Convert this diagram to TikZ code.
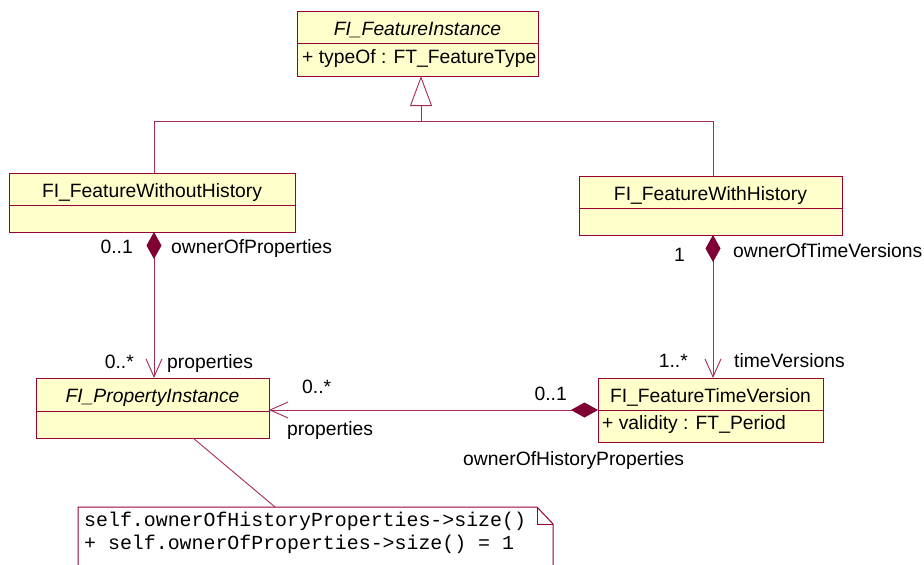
\documentclass[tikz,border=0pt]{standalone}
\usepackage{fontspec}
\setmainfont{Liberation Sans}
\newfontfamily\notemono{Liberation Mono}
\usetikzlibrary{arrows.meta}
\definecolor{umlborder}{RGB}{153,0,51}
\definecolor{umlline}{RGB}{165,45,85}
\definecolor{umlfill}{RGB}{255,255,204}
\definecolor{umldiam}{RGB}{128,0,51}
\begin{document}
\begin{tikzpicture}[x=1pt,y=-1pt,
  cls/.style={draw=umlborder, fill=umlfill, line width=1pt, inner sep=0pt, outer sep=0pt, anchor=north west, text height=17pt, text depth=1pt, font=\fontsize{19.3}{22}\selectfont},
  attr/.style={inner sep=0pt, anchor=west, font=\fontsize{19.3}{22}\selectfont},
  lbl/.style={inner sep=0pt, text height=14pt, text depth=4pt, font=\fontsize{19.3}{22}\selectfont},
  conn/.style={draw=umlline, line width=0.9pt},
  comp/.style={conn, {Diamond[length=27pt,width=15pt,fill=umldiam,color=umldiam]}-{Straight Barb[length=18pt,width=16pt,line width=0.9pt]}},
  gen/.style={conn, -{Triangle[open,length=30pt,width=22pt,fill=white,line width=0.9pt]}},
  notebox/.style={draw=umlborder, fill=white, line width=1pt}
]
\useasboundingbox (0,0) rectangle (924,565);

% FI_FeatureInstance
\node[cls, minimum width=241pt, minimum height=32pt] (fiT) at (297,11) {\textit{FI\_FeatureInstance}};
\node[cls, minimum width=241pt, minimum height=33pt] (fiA) at (297,43) {};
\node[attr] (fiAt) at (302,59) {+ typeOf : FT\_FeatureType};

% FI_FeatureWithoutHistory
\node[cls, minimum width=286pt, minimum height=32pt] (fwoT) at (9,173) {FI\_FeatureWithoutHistory};
\node[cls, minimum width=286pt, minimum height=27pt] (fwoA) at (9,205) {};

% FI_FeatureWithHistory
\node[cls, minimum width=263pt, minimum height=32pt] (fwT) at (579,176) {FI\_FeatureWithHistory};
\node[cls, minimum width=263pt, minimum height=27pt] (fwA) at (579,208) {};

% FI_PropertyInstance
\node[cls, minimum width=233pt, minimum height=33pt] (piT) at (36,378) {\textit{FI\_PropertyInstance}};
\node[cls, minimum width=233pt, minimum height=27pt] (piA) at (36,411) {};

% FI_FeatureTimeVersion
\node[cls, minimum width=225pt, minimum height=32pt] (ftT) at (598,378) {FI\_FeatureTimeVersion};
\node[cls, minimum width=225pt, minimum height=32pt] (ftA) at (598,410) {};
\node[attr] (ftAt) at (602,425) {+ validity : FT\_Period};

% Generalization
\coordinate (gj) at (421,121);
\coordinate (gl) at (154,121);
\coordinate (gr) at (713,121);
\draw[conn] (fwoT.north -| gl) -- (gl) -- (gr) -- (fwT.north -| gr);
\draw[gen] (gj) -- (gj |- fiA.south);

% Compositions
\draw[comp] (fwoA.south -| gl) -- (piT.north -| gl);
\draw[comp] (fwA.south -| gr) -- (ftT.north -| gr);
\coordinate (hy) at (0,410);
\draw[comp] (ftT.west |- hy) -- (piT.east |- hy);

% Labels
\node[lbl, anchor=east] (m1) at (133,248) {0..1};
\node[lbl, anchor=west] (r1) at (171,248) {ownerOfProperties};
\node[lbl, anchor=east] (m2) at (134,363) {0..*};
\node[lbl, anchor=west] (r2) at (167,363) {properties};
\node[lbl, anchor=east] (m3) at (685,256) {1};
\node[lbl, anchor=west] (r3) at (733,252) {ownerOfTimeVersions};
\node[lbl, anchor=east] (m4) at (688,362) {1..*};
\node[lbl, anchor=west] (r4) at (734,362) {timeVersions};
\node[lbl, anchor=east] (m5) at (567,395) {0..1};
\node[lbl, anchor=west] (r5) at (463,460) {ownerOfHistoryProperties};
\node[lbl, anchor=west] (m6) at (302,388) {0..*};
\node[lbl, anchor=west] (r6) at (287,430) {properties};

% Note
\draw[notebox] (78,507) -- (537,507) -- (553,524) -- (553,575) -- (78,575) -- cycle;
\draw[notebox, fill=none] (537,507) -- (537,524) -- (553,524);
\coordinate (nt) at (275,507);
\coordinate (pb) at (193,438);
\draw[conn] (pb) -- (nt);
\node[inner sep=0pt, anchor=north west, align=left, font=\notemono\fontsize{19.9}{22.5}\selectfont] (note) at (84,512) {self.ownerOfHistoryProperties->size()\\+ self.ownerOfProperties->size() = 1};
\end{tikzpicture}
\end{document}
